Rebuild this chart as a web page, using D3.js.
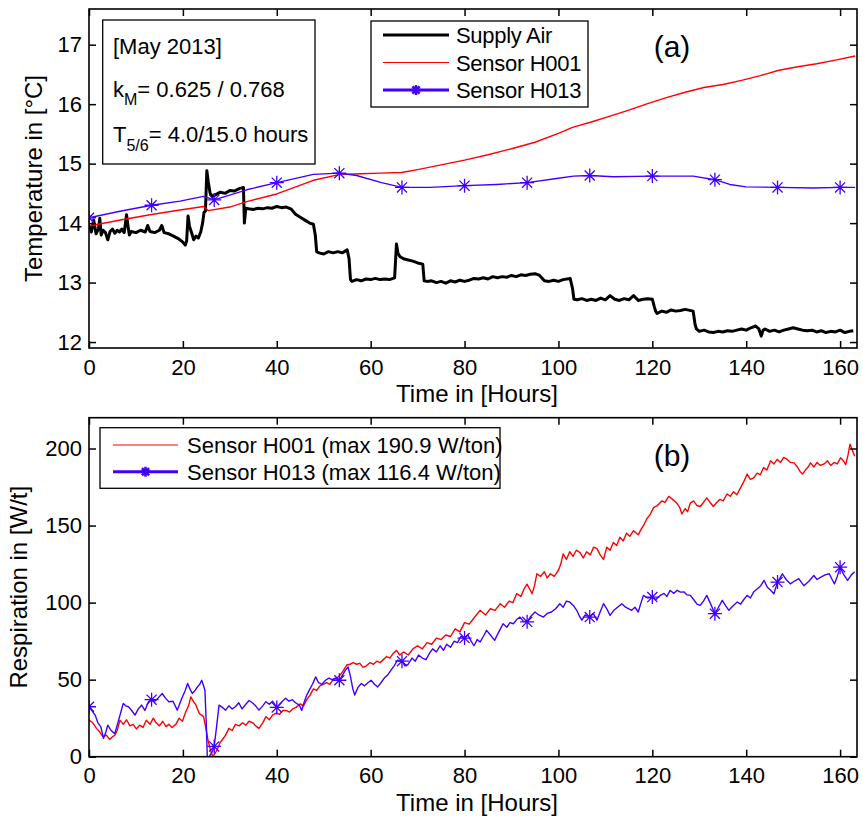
<!DOCTYPE html>
<html><head><meta charset="utf-8">
<script src="https://cdn.jsdelivr.net/npm/d3@7"></script>
<style>
body{margin:0;background:#fff}
svg{display:block}
text{font-family:"Liberation Sans",Arial,Helvetica,sans-serif;fill:#000}
</style>
</head><body>
<svg id="chart" width="863" height="816"></svg>
<script>
// ---------- DATA ----------
const hourTicks = [0,20,40,60,80,100,120,140,160];
const tempTicks = [12,13,14,15,16,17];
const respTicks = [0,50,100,150,200];
const markerHours = [0,13.33,26.67,40,53.33,66.67,80,93.33,106.67,120,133.33,146.67,160];

// panel (a): temperature [°C] vs hours
const supplyAir = [[0,13.97],[0.5,13.85],[1,14.05],[1.5,13.82],[2,13.9],[2.3,14.08],[2.6,13.8],[3,13.88],[3.5,13.84],[4,13.72],[4.5,13.86],[5,13.9],[5.5,13.83],[6,13.88],[6.5,13.85],[7,13.9],[7.5,13.84],[8,14.14],[8.3,13.95],[8.6,13.8],[9,13.86],[10,13.84],[11,13.88],[12,13.85],[12.5,13.96],[13,13.86],[14,13.84],[15,13.88],[15.5,13.96],[16,13.84],[17,13.82],[18,13.78],[19,13.74],[20,13.68],[20.5,13.63],[20.8,13.7],[21.1,14.12],[21.4,13.95],[21.8,13.85],[22.3,13.72],[22.8,13.78],[23.3,13.75],[23.8,13.85],[24.2,14.0],[24.5,14.18],[24.8,14.2],[25.1,14.88],[25.4,14.7],[25.8,14.5],[26.3,14.45],[27,14.48],[28,14.52],[29,14.5],[30,14.55],[31,14.54],[32,14.58],[32.9,14.6],[33.1,14.0],[33.4,14.25],[34,14.24],[35,14.23],[36,14.25],[37,14.24],[38,14.26],[39,14.25],[40,14.28],[41,14.26],[42,14.27],[43,14.24],[44,14.15],[45,14.1],[46,14.05],[47,14.0],[47.8,13.98],[48.2,13.8],[48.5,13.52],[49,13.5],[50,13.48],[51,13.52],[52,13.5],[53,13.52],[54,13.5],[55,13.55],[55.4,13.4],[55.7,13.05],[56,13.02],[57,13.05],[58,13.03],[59,13.06],[60,13.05],[61,13.07],[62,13.05],[63,13.06],[64,13.05],[65.1,13.08],[65.5,13.65],[65.8,13.5],[66.2,13.44],[67,13.4],[68,13.38],[69,13.36],[70,13.33],[71.1,13.31],[71.4,13.03],[72,13.02],[73,13.03],[74,13.0],[75,13.02],[76,12.99],[77,13.03],[78,13.01],[79,13.04],[80,13.02],[81,13.04],[82,13.07],[83,13.06],[84,13.08],[85,13.06],[86,13.1],[87,13.08],[88,13.1],[89,13.09],[90,13.12],[91,13.1],[92,13.13],[93,13.12],[94,13.14],[95,13.15],[96,13.12],[97,13.03],[98,13.02],[99,13.04],[100,13.02],[101,13.05],[102.5,13.07],[103,12.9],[103.3,12.72],[104,12.71],[105,12.73],[106,12.7],[107,12.72],[108,12.7],[109,12.74],[110,12.71],[111,12.78],[112,12.72],[113,12.7],[114,12.73],[115,12.71],[116,12.78],[117,12.7],[118,12.72],[119,12.73],[120,12.72],[120.4,12.6],[120.7,12.52],[121,12.48],[122,12.52],[123,12.5],[124,12.54],[125,12.52],[126,12.53],[127,12.55],[128.7,12.52],[129.1,12.3],[129.4,12.22],[130,12.18],[131,12.2],[132,12.17],[133,12.16],[134,12.18],[135,12.17],[136,12.19],[137,12.18],[138,12.2],[139,12.22],[140,12.2],[141,12.24],[142,12.27],[142.7,12.22],[143.2,12.1],[143.6,12.2],[144,12.22],[145,12.18],[146,12.2],[147,12.17],[148,12.2],[149,12.22],[150,12.24],[151,12.22],[152,12.2],[153,12.19],[154,12.2],[155,12.17],[156,12.19],[157,12.16],[158,12.18],[159,12.17],[160,12.2],[161,12.16],[162,12.18],[162.8,12.19]];
const tempH001 = [[0,13.95],[7.3,14.06],[13,14.14],[19.4,14.22],[24.4,14.28],[25.4,14.21],[30,14.27],[33.6,14.36],[40,14.49],[47.8,14.72],[53.5,14.82],[58,14.83],[62,14.84],[66.6,14.85],[70,14.9],[75,14.98],[80,15.06],[85,15.15],[90,15.25],[95,15.36],[100,15.51],[103,15.61],[107,15.7],[111,15.8],[115,15.9],[119,16.01],[123,16.11],[127,16.2],[131,16.28],[135,16.33],[139,16.4],[143,16.48],[147,16.57],[151,16.63],[155,16.68],[159,16.74],[163.2,16.81]];
const tempH013 = [[0,14.09],[6.6,14.2],[13.33,14.3],[19.4,14.37],[24.4,14.45],[26.67,14.39],[33.6,14.56],[40,14.68],[47.8,14.82],[53.33,14.84],[57,14.8],[62.3,14.68],[66.67,14.6],[72.6,14.6],[80,14.63],[86.8,14.65],[93.33,14.68],[99.6,14.75],[103.2,14.79],[106.67,14.8],[111.7,14.78],[120,14.79],[128.7,14.79],[133.33,14.73],[136.5,14.65],[140,14.61],[146.67,14.6],[154.3,14.59],[160,14.6],[163.2,14.6]];

// panel (b): respiration [W/t] vs hours
const respH001 = [[0,23.7],[0.8,22],[1.6,18.4],[2.3,16],[3,12.9],[3.7,14],[4.4,11.2],[5,13],[5.5,13.8],[6,17],[6.6,23.7],[7.3,21],[8,24],[8.7,20],[9.4,21],[10.1,18],[10.8,20.5],[11.5,19],[12.2,23.7],[13,21],[13.7,25],[14.3,22],[15,20],[15.7,23],[16.4,19.5],[17,21],[17.7,19],[18.5,21],[19.2,25],[19.9,23],[20.6,29],[21.2,33],[21.7,38.8],[22.2,36],[22.7,34],[23.5,28],[24,27],[24.4,26],[24.8,20],[25.4,10],[26,3],[26.4,0],[27,3],[27.5,6],[27.9,9],[28.4,11],[29.1,14],[29.8,18.4],[30.5,17],[31.2,21],[32,20],[32.7,22],[33.4,20.5],[34.1,23],[34.9,22],[35.5,20],[36.2,18.4],[37,22],[37.7,26],[38.4,24],[39.1,27],[39.9,28.3],[40.6,27.5],[41.3,30],[42,30],[42.7,29],[43.4,31],[44.1,32],[45,34.3],[45.7,33],[46.4,37],[47.1,40],[47.8,44],[48.5,43],[49.2,46],[49.9,47],[50.6,48],[51.3,47],[52,50],[52.8,51],[53.5,53],[54.2,56],[54.9,59.5],[55.6,60],[56.3,61],[57,60],[57.7,60.6],[58.4,58],[59.1,59],[59.8,61],[60.6,60],[61.3,62],[62,61],[62.7,63],[63.4,65],[64.1,64],[64.8,67],[65.5,69],[66.2,66],[67,68],[68,66],[69,70],[70,72],[71,70],[72,74],[73,73],[74,77],[75,76],[76,79],[77,78],[78,83],[79,81],[80,87],[81,86],[82,90],[83.3,95],[84.5,92],[85.5,96],[86.5,95],[87.6,99.3],[88.5,97],[89.5,101],[90.3,100],[91.1,105.8],[92,104],[92.7,109],[93.3,112],[94,108],[94.4,105.8],[94.9,111],[95.4,118.7],[96.2,117],[97,120],[97.6,116],[98.3,118.7],[99.1,117],[100,121],[100.5,125],[101,131.6],[101.7,128],[102.4,133],[103.1,130],[103.8,134],[104.6,132.5],[105.3,129],[106,133],[106.8,131],[107.5,136],[108.2,135],[108.9,131],[109.6,128],[110.3,136],[111,134],[111.7,139],[112.4,137],[113.1,142.4],[113.8,140],[114.5,145],[115.2,143],[116,146.7],[117,144],[117.7,148],[118.3,151],[118.8,154.3],[119.5,157],[120.3,161.8],[121.1,163],[122,166],[122.7,165],[123.5,169],[124.3,167],[125.2,164.6],[125.8,162],[126.3,157.5],[127,161],[127.5,159],[128.1,164.6],[128.8,166],[129.5,163],[130.2,162.4],[130.9,165],[131.6,168],[132.3,165],[133,162.4],[133.7,165],[134.4,167],[135.1,166],[135.9,170.5],[136.6,169],[137.3,172],[138,170],[138.7,174],[139.4,178],[140.2,183.4],[140.9,180],[141.6,181],[142.3,184],[143,183],[143.7,187.7],[144.4,186],[145.2,192],[145.9,190],[146.6,193],[147.3,191],[148,194.2],[148.7,193],[149.4,191],[150.2,190.7],[150.9,188],[151.5,185],[152,183.4],[152.6,186],[153.2,188],[153.7,190.7],[154.4,188],[155.1,191],[155.8,189],[156.6,190],[157.3,192],[158,189],[158.7,191],[159.4,190],[160.1,194],[160.7,192],[161.2,189.5],[161.7,196],[162.1,202.8],[162.6,199],[163.1,195]];
const respH013 = [[0,32.4],[0.6,30],[1.3,27],[1.9,22],[2.5,19.5],[3.1,11.9],[3.6,16],[4,20.5],[4.7,17],[5.5,15],[6.2,22.6],[6.7,28],[7.3,34.6],[7.8,33],[8.4,32.4],[9.1,30],[9.8,27],[10.5,31],[11.2,33.5],[11.9,30],[12.7,35.7],[13.33,37],[14,36],[14.7,38],[15.6,41],[16.3,38],[17,35.7],[17.9,36],[18.8,30.2],[19.4,35],[19.9,38.8],[20.5,43],[21,47.5],[21.5,44],[22,41],[22.6,43],[23.1,45.3],[23.6,47],[24,49.6],[24.4,46],[24.7,43],[25.0,20],[25.2,0],[25.6,0],[26.2,3],[26.67,6.7],[27.2,20],[27.7,33.5],[28.4,32],[29.1,30.2],[29.8,33],[30.5,31],[31.2,32.4],[31.9,35],[32.6,31],[33.4,34],[34.1,36.5],[34.8,35],[35.5,33],[36.2,30.2],[37,33],[37.7,35.7],[38.4,34],[39.1,36],[40,32],[40.6,34],[41.2,36],[41.9,38],[42.6,36],[43.3,37],[44,35],[44.8,33.5],[45.3,30],[45.9,36],[46.4,40],[46.9,43],[47.6,47],[48.3,51.8],[48.9,48],[49.6,47],[50.4,49.6],[51.1,51],[51.8,50],[52.5,51],[53.33,49.6],[54,53],[54.6,56],[55.2,58.2],[55.7,52],[56.2,44],[56.6,40],[57.3,45],[58,47.5],[58.7,46],[59.4,48],[60.1,49.6],[60.8,47],[61.5,45.3],[62.2,48],[62.9,51],[63.6,53],[64.3,56],[65,59],[65.7,62.6],[66.67,62],[67.3,59],[68,60],[68.8,64],[69.5,62],[70.2,66],[71,64],[71.8,63],[72.5,67],[73.2,70],[74,68],[74.8,72],[75.5,69],[76.2,73],[77,71],[77.8,75],[78.5,74],[79.2,78],[80,77],[80.7,79],[81.4,75],[82,72],[82.7,76],[83.3,74.4],[84,78],[84.7,82],[85.5,79],[86.4,75.5],[87.3,81],[88.2,86.3],[89,84],[89.7,87],[90.4,86.3],[91.1,89],[91.8,90.6],[92.5,88],[93.33,87.5],[94.1,91],[95,93.9],[95.8,92],[96.8,90.6],[97.6,93],[98.5,93.9],[99.4,96],[100.3,99.3],[101,97],[101.7,101],[102.4,100.4],[103.2,98],[103.9,95],[104.5,91],[105,88.6],[105.7,92],[106.67,90.6],[107.4,93],[108.2,88.6],[108.9,94],[109.6,99.3],[110.3,96],[111,91.7],[111.8,95],[112.6,97],[113.5,99.3],[114.3,97],[115.6,95],[116.3,97],[117,93.9],[117.5,99],[118.1,104.7],[119,103],[120,103.6],[120.8,102],[121.7,104.7],[122.5,106],[123.1,104],[123.8,107.9],[124.6,106],[125.3,108],[126,106.8],[126.7,107],[127.4,105],[128.1,104.7],[128.8,102],[129.5,99],[130.2,98.2],[130.9,101],[131.6,104.7],[132.3,100],[133.33,92.8],[134.1,97],[134.9,101.4],[135.6,98],[136.3,95],[137.2,98],[138.1,100.4],[138.8,99],[139.5,102],[140.2,104.7],[140.9,103],[141.6,107],[142.4,109],[143.1,111],[143.8,114.4],[144.5,110],[145.2,108],[145.9,105.8],[146.67,113.3],[147.2,116],[147.7,118.7],[148.5,115],[149.4,112.2],[150.3,114],[151.2,115.5],[151.8,113],[152.3,111],[153.4,114],[154.4,117.6],[155.1,115],[155.9,116.5],[156.8,118],[157.7,118.7],[158.3,115],[158.8,112.2],[159.4,117],[160,123],[160.8,118],[161.6,114.4],[162.4,118],[163.1,120]];

const legendA = ["Supply Air","Sensor H001","Sensor H013"];
const legendB = ["Sensor H001 (max 190.9 W/ton)","Sensor H013 (max 116.4 W/ton)"];

// ---------- STYLE ----------
const RED = "#ff0000", BLUE = "#4000ff", BLACK = "#000";
const svg = d3.select("#chart");
const L = 89, R = 857;
const panels = {
  a: {top: 9, bottom: 348, domain: [11.9, 17.6], ticks: tempTicks},
  b: {top: 417.7, bottom: 756.7, domain: [0, 220], ticks: respTicks}
};
const x = d3.scaleLinear().domain([0, 163.6]).range([L, R]);

function valueAt(data, h){
  const i = d3.bisector(d => d[0]).left(data, h);
  if (i <= 0) return data[0][1];
  if (i >= data.length) return data[data.length-1][1];
  const a = data[i-1], b = data[i];
  return a[1] + (b[1]-a[1])*(h-a[0])/(b[0]-a[0]);
}
function star(g, cx, cy, r, color, w){
  const d = r*0.72;
  g.append("path")
    .attr("d", `M${cx-r},${cy}H${cx+r}M${cx},${cy-r}V${cy+r}M${cx-d},${cy-d}L${cx+d},${cy+d}M${cx-d},${cy+d}L${cx+d},${cy-d}`)
    .attr("stroke", color).attr("stroke-width", w).attr("fill","none");
}

function drawPanel(key, series, xlab, ylab, ylabX){
  const p = panels[key];
  const y = d3.scaleLinear().domain(p.domain).range([p.bottom, p.top]);
  const g = svg.append("g");
  const clipId = "clip-" + key;
  svg.append("clipPath").attr("id", clipId).append("rect")
    .attr("x", L).attr("y", p.top).attr("width", R-L).attr("height", p.bottom-p.top);

  const plot = g.append("g").attr("clip-path", `url(#${clipId})`);
  const line = d3.line().x(d => x(d[0])).y(d => y(d[1]));
  series.forEach(s => {
    plot.append("path").datum(s.data).attr("d", line)
      .attr("fill","none").attr("stroke", s.color).attr("stroke-width", s.width)
      .attr("stroke-linejoin","round");
    if (s.markers) {
      markerHours.forEach(h => star(plot, x(h), y(valueAt(s.data, h)), 7, s.color, 1.3));
    }
  });

  // axes
  const fmt = d3.format("d");
  const ax = [
    g.append("g").attr("transform", `translate(0,${p.bottom})`)
      .call(d3.axisBottom(x).tickValues(hourTicks).tickSizeInner(-7).tickSizeOuter(0).tickPadding(11).tickFormat(fmt)),
    g.append("g").attr("transform", `translate(0,${p.top})`)
      .call(d3.axisTop(x).tickValues(hourTicks).tickSizeInner(-7).tickSizeOuter(0).tickFormat("")),
    g.append("g").attr("transform", `translate(${L},0)`)
      .call(d3.axisLeft(y).tickValues(p.ticks).tickSizeInner(-7).tickSizeOuter(0).tickPadding(7).tickFormat(fmt)),
    g.append("g").attr("transform", `translate(${R},0)`)
      .call(d3.axisRight(y).tickValues(p.ticks).tickSizeInner(-7).tickSizeOuter(0).tickFormat(""))
  ];
  ax.forEach(a => {
    a.select(".domain").remove();
    a.selectAll("line").attr("stroke", BLACK).attr("stroke-width", 1.5);
    a.selectAll("text").style("font-family", '"Liberation Sans",Arial,sans-serif').style("font-size","22px").attr("fill", BLACK);
  });
  g.append("rect").attr("x", L).attr("y", p.top).attr("width", R-L).attr("height", p.bottom-p.top)
    .attr("fill","none").attr("stroke", BLACK).attr("stroke-width", 1.6);

  g.append("text").attr("x", (L+R)/2 + 4).attr("y", p.bottom + 54)
    .attr("text-anchor","middle").style("font-size","24px").text(xlab);
  g.append("text").attr("transform", `translate(${ylabX},${(p.top+p.bottom)/2}) rotate(-90)`)
    .attr("text-anchor","middle").style("font-size","24px").text(ylab);
  return {g, y};
}

// ----- Panel (a)
const A = drawPanel("a", [
  {data: supplyAir, color: BLACK, width: 3},
  {data: tempH001, color: RED, width: 1.4},
  {data: tempH013, color: BLUE, width: 1.4, markers: true}
], "Time in [Hours]", "Temperature in [°C]", 42);

// annotation box
const ann = svg.append("g");
ann.append("rect").attr("x", 102.7).attr("y", 20).attr("width", 212.3).attr("height", 144)
  .attr("fill","#fff").attr("stroke", BLACK).attr("stroke-width", 1.3);
ann.append("text").attr("x", 113).attr("y", 54).style("font-size","22px").text("[May 2013]");
const t2 = ann.append("text").attr("x", 113).attr("y", 97).style("font-size","22px");
t2.append("tspan").text("k");
t2.append("tspan").attr("dy", 8).style("font-size","16px").text("M");
t2.append("tspan").attr("dy", -8).text("= 0.625 / 0.768");
const t3 = ann.append("text").attr("x", 113).attr("y", 142).style("font-size","22px");
t3.append("tspan").text("T");
t3.append("tspan").attr("dy", 9).style("font-size","16px").text("5/6");
t3.append("tspan").attr("dy", -9).text("= 4.0/15.0 hours");

// legend (a)
const lgA = svg.append("g");
lgA.append("rect").attr("x", 371).attr("y", 21).attr("width", 217).attr("height", 86)
  .attr("fill","#fff").attr("stroke", BLACK).attr("stroke-width", 1.3);
const rowsA = [
  {c: BLACK, w: 3, m: false},
  {c: RED, w: 1.2, m: false},
  {c: BLUE, w: 3, m: true}
];
legendA.forEach((lab, i) => {
  const cy = 35 + i*27.5;
  lgA.append("line").attr("x1", 383).attr("x2", 449).attr("y1", cy).attr("y2", cy)
    .attr("stroke", rowsA[i].c).attr("stroke-width", rowsA[i].w);
  if (rowsA[i].m) star(lgA, 416, cy, 5, BLUE, 2.5);
  lgA.append("text").attr("x", 456).attr("y", cy + 8).style("font-size","22px")
    .style("letter-spacing","-0.3px").text(lab);
});
svg.append("text").attr("x", 672).attr("y", 57).attr("text-anchor","middle").style("font-size","30px").text("(a)");

// ----- Panel (b)
const B = drawPanel("b", [
  {data: respH001, color: RED, width: 1.4},
  {data: respH013, color: BLUE, width: 1.4, markers: true}
], "Time in [Hours]", "Respiration in [W/t]", 27);

const lgB = svg.append("g");
lgB.append("rect").attr("x", 100).attr("y", 427.7).attr("width", 400).attr("height", 60.6)
  .attr("fill","#fff").attr("stroke", BLACK).attr("stroke-width", 1.3);
const rowsB = [{c: RED, w: 1.2, m: false},{c: BLUE, w: 3, m: true}];
legendB.forEach((lab, i) => {
  const cy = 445 + i*26.7;
  lgB.append("line").attr("x1", 113).attr("x2", 178).attr("y1", cy).attr("y2", cy)
    .attr("stroke", rowsB[i].c).attr("stroke-width", rowsB[i].w);
  if (rowsB[i].m) star(lgB, 145.5, cy, 5, BLUE, 2.5);
  lgB.append("text").attr("x", 187).attr("y", cy + 8).style("font-size","22px").text(lab);
});
svg.append("text").attr("x", 672).attr("y", 466).attr("text-anchor","middle").style("font-size","30px").text("(b)");
</script>
</body></html>
